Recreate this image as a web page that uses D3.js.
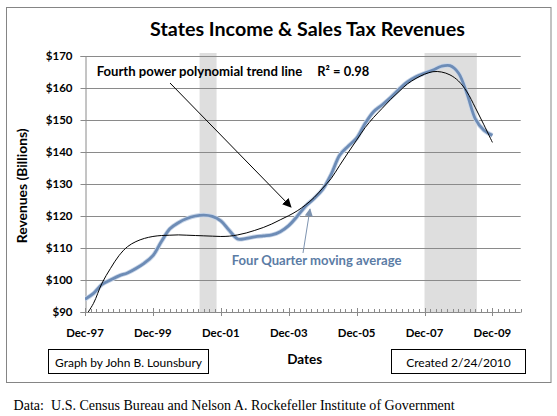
<!DOCTYPE html>
<html>
<head>
<meta charset="utf-8">
<script src="https://cdn.jsdelivr.net/npm/d3@7"></script>
<style>
  html, body { margin: 0; padding: 0; background: #fff; }
  svg { display: block; }
</style>
</head>
<body>
<svg id="chart" width="557" height="416"></svg>
<script>
// ---------------- DATA ----------------
const chartTitle = "States Income & Sales Tax Revenues";
const yAxisTitle = "Revenues (Billions)";
const xAxisTitle = "Dates";
const xTickLabels = ["Dec-97", "Dec-99", "Dec-01", "Dec-03", "Dec-05", "Dec-07", "Dec-09"];
const xTickMonths = [0, 24, 48, 72, 96, 120, 144];      // months after Dec-97
const yTickValues = [90, 100, 110, 120, 130, 140, 150, 160, 170];
// Quarterly, Dec-97 .. Dec-09 (49 quarters)
const movingAvg = [
  94.0, 95.8, 98.6, 100.0, 101.3, 102.2, 103.6, 105.3, 107.6, 112.0,
  116.0, 117.9, 119.2, 120.0, 120.3, 119.9, 118.5, 115.5, 112.8, 113.0,
  113.5, 113.8, 114.1, 115.1, 117.0, 119.9, 123.1, 125.5, 128.3, 133.0,
  139.0, 141.8, 144.3, 148.9, 152.6, 154.7, 157.0, 159.6, 161.9, 163.5,
  164.6, 165.6, 166.8, 167.0, 164.7, 158.3, 150.3, 146.8, 145.2
];
const trendLine = [
  88.5, 92.7, 99.0, 103.6, 107.6, 110.4, 112.0, 113.0, 113.6, 113.9,
  114.0, 114.1, 114.0, 113.9, 113.8, 113.7, 113.6, 113.7, 114.1, 114.7,
  115.5, 116.4, 117.5, 118.8, 120.1, 121.6, 123.5, 125.8, 128.7, 131.7,
  135.8, 139.8, 143.7, 147.6, 150.8, 153.6, 156.4, 158.9, 161.3, 163.0,
  164.3, 165.1, 165.0, 164.1, 162.2, 158.8, 153.8, 148.5, 143.0
];
const recessionStartMonth = [40.5, 120];
const recessionEndMonth = [46.5, 138.5];
const trendLabel = "Fourth power polynomial trend line";
const r2Label = "R\u00B2 = 0.98";
const avgLabel = "Four Quarter moving average";
const creditLabel = "Graph by John B. Lounsbury";
const createdLabel = "Created 2/24/2010";
const sourceLabel = "Data:  U.S. Census Bureau and Nelson A. Rockefeller Institute of Government";

// ---------------- LAYOUT ----------------
const svg = d3.select("#chart");
const SANS = "Lato, 'Open Sans', sans-serif";
const SERIF = "'Liberation Serif', 'Times New Roman', serif";
const plotL = 85, plotR = 520.7, plotT = 56, plotB = 312;

const x = d3.scaleLinear().domain([0, 154]).range([plotL, plotR]);
const y = d3.scaleLinear().domain([90, 170]).range([plotB, plotT]);

function fit(sel, w) {
  const len = sel.node().getComputedTextLength();
  const fs = parseFloat(sel.attr("font-size"));
  const nfs = fs * w / len;
  sel.attr("font-size", nfs);
  return nfs;
}

// outer frame
svg.append("rect").attr("x", 6.5).attr("y", 7.5).attr("width", 544.5).attr("height", 375)
  .attr("fill", "#fff").attr("stroke", "#858585").attr("stroke-width", 1);

// recession bands
const bands = recessionStartMonth.map((s, i) => ({ s, e: recessionEndMonth[i] }));
svg.append("g").selectAll("rect").data(bands).join("rect")
  .attr("x", d => x(d.s)).attr("width", d => x(d.e) - x(d.s))
  .attr("y", plotT - 3).attr("height", plotB - plotT + 3)
  .attr("fill", "#dedede");

// gridlines
svg.append("g").selectAll("line").data(yTickValues.filter(v => v > 90)).join("line")
  .attr("x1", plotL).attr("x2", plotR).attr("y1", d => Math.round(y(d)) + 0.5).attr("y2", d => Math.round(y(d)) + 0.5)
  .attr("stroke", "#8a8a8a").attr("stroke-width", 1);

// y axis
const yAxis = d3.axisLeft(y).tickValues(yTickValues).tickSize(5).tickFormat(d => "$" + d);
const gy = svg.append("g").attr("transform", `translate(${plotL + 0.5},0)`).call(yAxis);
gy.select(".domain").attr("stroke", "#8a8a8a");
gy.selectAll(".tick line").attr("stroke", "#8a8a8a");
gy.selectAll(".tick text").attr("font-family", SANS).attr("font-weight", "bold")
  .attr("fill", "#000").attr("x", -13).attr("font-size", 11);
const yfs = fit(gy.select(".tick:last-of-type text"), 26.7);
gy.selectAll(".tick text").attr("font-size", yfs);

// x axis
const minorTicks = d3.range(0, 155, 2);
const gx = svg.append("g");
gx.append("line").attr("x1", plotL).attr("x2", plotR).attr("y1", plotB + 0.5).attr("y2", plotB + 0.5)
  .attr("stroke", "#8a8a8a");
gx.selectAll("line.minor").data(minorTicks).join("line").attr("class", "minor")
  .attr("x1", d => Math.round(x(d)) + 0.5).attr("x2", d => Math.round(x(d)) + 0.5)
  .attr("y1", d => d % 24 === 0 ? plotB - 4 : plotB - 3)
  .attr("y2", d => d % 24 === 0 ? plotB + 4 : plotB + 0.5)
  .attr("stroke", "#8a8a8a");
const xl = gx.selectAll("text").data(xTickLabels).join("text")
  .attr("x", (d, i) => x(xTickMonths[i])).attr("y", 336.5)
  .attr("text-anchor", "middle").attr("font-family", SANS).attr("font-weight", "bold")
  .attr("font-size", 11).text(d => d);
const xfs = fit(d3.select(xl.nodes()[0]), 37.7);
xl.attr("font-size", xfs);

// lines
svg.append("clipPath").attr("id", "plotclip").append("rect")
  .attr("x", plotL).attr("y", plotT - 4).attr("width", plotR - plotL).attr("height", plotB - plotT + 4);

const lineGen = d3.line().x((d, i) => x(i * 3)).y(d => y(d)).curve(d3.curveCatmullRom.alpha(0.5));
const gl = svg.append("g").attr("clip-path", "url(#plotclip)");
gl.append("path").datum(movingAvg).attr("d", lineGen)
  .attr("fill", "none").attr("stroke", "#c9d6e8").attr("stroke-width", 4.5).attr("stroke-linejoin", "round");
gl.append("path").datum(movingAvg).attr("d", lineGen)
  .attr("fill", "none").attr("stroke", "#6d8cb6").attr("stroke-width", 2.8).attr("stroke-linejoin", "round");
gl.append("path").datum(trendLine).attr("d", lineGen)
  .attr("fill", "none").attr("stroke", "#000").attr("stroke-width", 1);

// arrows
const defs = svg.append("defs");
defs.append("marker").attr("id", "arrB").attr("viewBox", "0 0 10 10").attr("refX", 9).attr("refY", 5)
  .attr("markerWidth", 9).attr("markerHeight", 9).attr("markerUnits", "userSpaceOnUse").attr("orient", "auto")
  .append("path").attr("d", "M0,0 L10,5 L0,10 z").attr("fill", "#000");
defs.append("marker").attr("id", "arrG").attr("viewBox", "0 0 10 10").attr("refX", 9).attr("refY", 5)
  .attr("markerWidth", 8).attr("markerHeight", 8).attr("markerUnits", "userSpaceOnUse").attr("orient", "auto")
  .append("path").attr("d", "M0,0 L10,5 L0,10 z").attr("fill", "#7d93b0");

svg.append("line").attr("x1", 170).attr("y1", 83).attr("x2", 291).attr("y2", 207)
  .attr("stroke", "#000").attr("stroke-width", 1).attr("marker-end", "url(#arrB)");
svg.append("line").attr("x1", 303).attr("y1", 253).attr("x2", 310).attr("y2", 209)
  .attr("stroke", "#7d93b0").attr("stroke-width", 1).attr("marker-end", "url(#arrG)");

// annotations
const t1 = svg.append("text").attr("x", 96.7).attr("y", 75.7).attr("font-family", SANS)
  .attr("font-weight", "bold").attr("font-size", 12).text(trendLabel);
fit(t1, 205.7);
const t2 = svg.append("text").attr("x", 317.3).attr("y", 75.7).attr("font-family", SANS)
  .attr("font-weight", "bold").attr("font-size", 12).text(r2Label);
fit(t2, 52);
const t3 = svg.append("text").attr("x", 231.7).attr("y", 265).attr("font-family", SANS)
  .attr("font-weight", "bold").attr("font-size", 12).attr("fill", "#5b7ca5").text(avgLabel);
fit(t3, 170);

// title
const tt = svg.append("text").attr("x", 307.5).attr("y", 36.3).attr("text-anchor", "middle")
  .attr("font-family", SANS).attr("font-weight", "bold").attr("font-size", 18).text(chartTitle);
fit(tt, 315);

// y axis title
const yt = svg.append("text").attr("transform", "translate(26.5,185.8) rotate(-90)").attr("text-anchor", "middle")
  .attr("font-family", SANS).attr("font-weight", "bold").attr("font-size", 12).text(yAxisTitle);
fit(yt, 115);

// x axis title
const xt = svg.append("text").attr("x", 304.7).attr("y", 364).attr("text-anchor", "middle")
  .attr("font-family", SANS).attr("font-weight", "bold").attr("font-size", 12).text(xAxisTitle);
fit(xt, 35);

// boxes
svg.append("rect").attr("x", 48.5).attr("y", 349.5).attr("width", 160).attr("height", 24)
  .attr("fill", "#fff").attr("stroke", "#000");
const b1 = svg.append("text").attr("x", 128.5).attr("y", 366.5).attr("text-anchor", "middle")
  .attr("font-family", SANS).attr("font-size", 11).text(creditLabel);
fit(b1, 147);
svg.append("rect").attr("x", 391.5).attr("y", 349.5).attr("width", 134).attr("height", 24)
  .attr("fill", "#fff").attr("stroke", "#000");
const b2 = svg.append("text").attr("x", 458.5).attr("y", 366.5).attr("text-anchor", "middle")
  .attr("font-family", SANS).attr("font-size", 11).text(createdLabel);
fit(b2, 104.8);

// footer
const ft = svg.append("text").attr("x", 13.6).attr("y", 410).attr("font-family", SERIF)
  .attr("font-size", 12.5).attr("xml:space", "preserve").style("white-space", "pre").text(sourceLabel);
fit(ft, 441.5);
</script>
</body>
</html>
